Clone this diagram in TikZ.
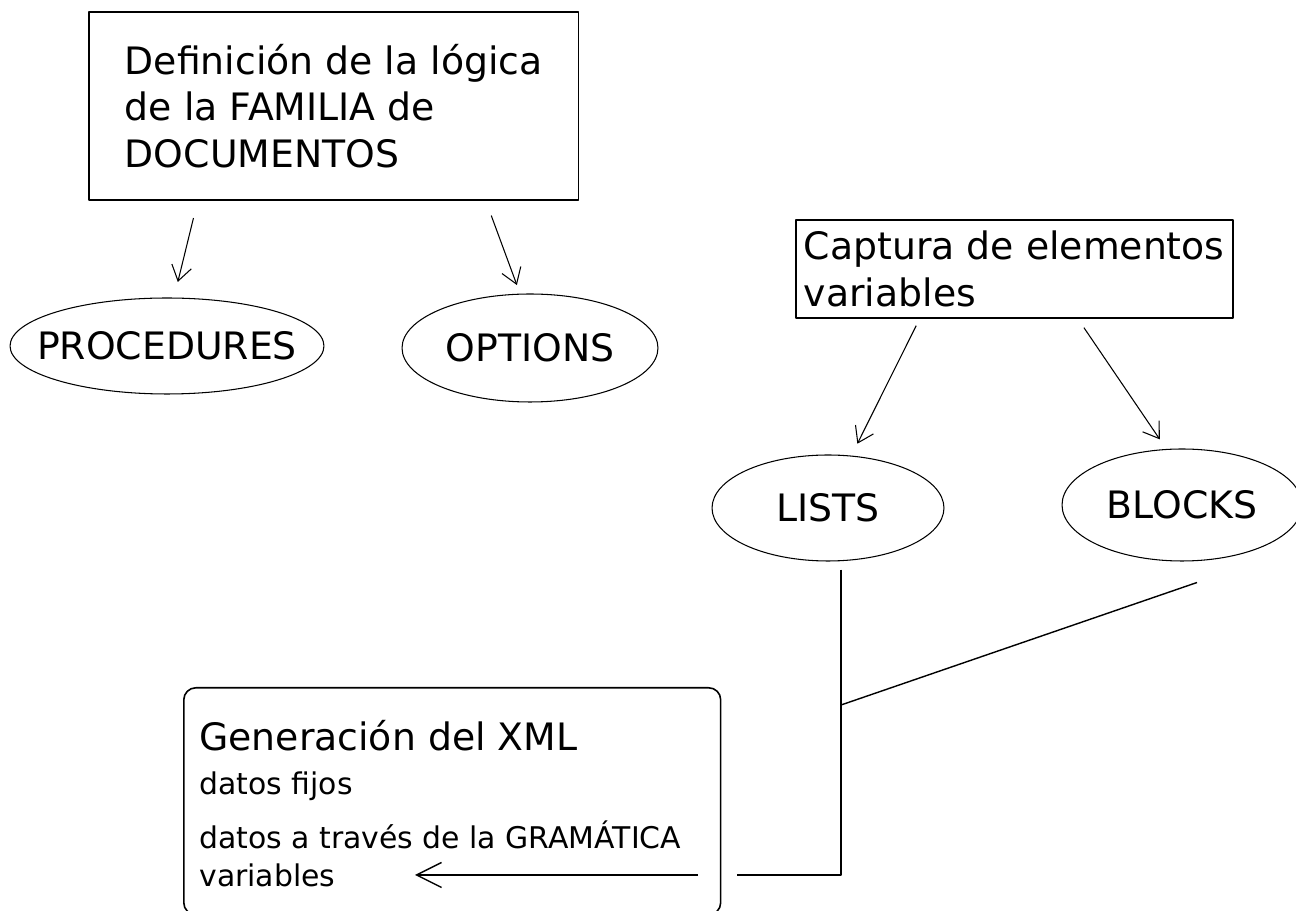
\documentclass[tikz,border=0pt]{standalone}
\usepackage{fontspec}
\setmainfont{DejaVu Sans}
\usetikzlibrary{arrows.meta,shapes.geometric}
\newcommand{\ovaltext}[1]{\makebox[0pt]{#1}}
\begin{document}
\begin{tikzpicture}[x=0.02cm,y=-0.02cm,line join=round,
	>={Straight Barb[length=0.3cm,width=0.4cm]},
	big/.style={font=\fontsize{21.5}{26.5}\selectfont},
	small/.style={font=\fontsize{17}{20}\selectfont},
	box/.style={draw,line width=0.9pt,rectangle,align=left,big},
	oval/.style={draw,line width=0.6pt,ellipse,inner sep=0pt,big},
	arr/.style={->,line width=0.6pt},
	link/.style={line width=0.8pt}]
	\useasboundingbox (0,0) rectangle (1296,911);
	% cajas de arriba
	\node (familia) [box,anchor=north west,minimum width=9.8cm,minimum height=3.76cm] at (88,11)
		{Definición de la lógica\\de la FAMILIA de\\DOCUMENTOS};
	\node (captura) [box,anchor=north west,minimum width=8.74cm,minimum height=1.96cm] at (795,219)
		{Captura de elementos\\variables};
	% elipses
	\node (proc) [oval,minimum width=6.28cm,minimum height=1.92cm] at (167,346) {\ovaltext{PROCEDURES}};
	\node (opt) [oval,minimum width=5.12cm,minimum height=2.16cm] at (530,348) {\ovaltext{OPTIONS}};
	\node (lists) [oval,minimum width=4.64cm,minimum height=2.12cm] at (828,508) {\ovaltext{LISTS}};
	\node (blocks) [oval,minimum width=4.8cm,minimum height=2.24cm] at (1182,505) {\ovaltext{BLOCKS}};
	\draw[arr,shorten <=0.36cm,shorten >=0.32cm] ([xshift=-2.72cm]familia.south) -- ([xshift=0.14cm]proc.north);
	\draw[arr,shorten <=0.32cm,shorten >=0.18cm] ([xshift=3.04cm]familia.south) -- ([xshift=-0.2cm]opt.north);
	\draw[arr,shorten <=0.16cm,shorten >=0.24cm] ([xshift=-1.89cm]captura.south) -- ([xshift=0.48cm]lists.north);
	\draw[arr,shorten <=0.22cm,shorten >=0.22cm] ([xshift=1.27cm]captura.south) -- ([xshift=-0.32cm]blocks.north);
	% generacion del XML
	\node (xml) [draw,line width=0.9pt,rounded corners=0.24cm,anchor=north west,
		minimum width=10.74cm,minimum height=4.54cm] at (183,687) {};
	\node (gen) [big,anchor=base west,inner sep=0pt] at (199,751) {Generación del XML};
	\node (fijos) [small,anchor=base west,inner sep=0pt] at (199,795) {datos fijos};
	\node (gram) [small,anchor=base west,inner sep=0pt] at (199,849) {datos a través de la GRAMÁTICA};
	\node (vars) [small,anchor=base west,inner sep=0pt] at (199,887) {variables};
	\coordinate (join) at (841,705);
	\coordinate (gapr) at (737,875);
	\coordinate (gapl) at (698,875);
	\coordinate (tip) at (415,875);
	\draw[link] ([xshift=0.26cm,yshift=-0.16cm]lists.south) |- (gapr);
	\draw[link] ([xshift=0.3cm,yshift=-0.42cm]blocks.south) -- (join);
	\draw[->,link,>={Straight Barb[length=0.5cm,width=0.5cm]}] (gapl) -- (tip);
\end{tikzpicture}
\end{document}
